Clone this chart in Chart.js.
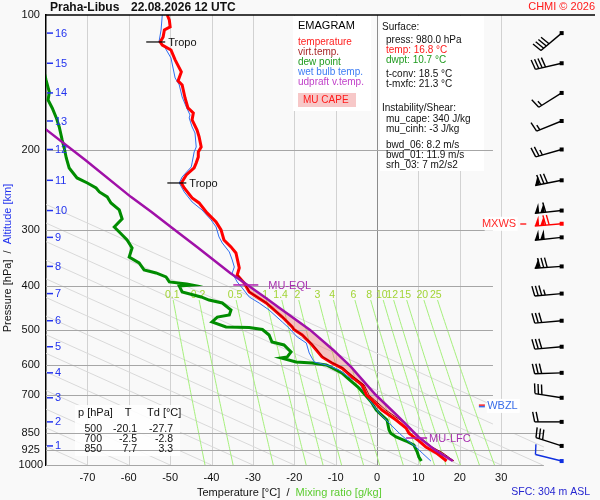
<!DOCTYPE html>
<html>
<head>
<meta charset="utf-8">
<title>Emagram Praha-Libus</title>
<script src="https://cdn.jsdelivr.net/npm/chart.js@4.4.1/dist/chart.umd.min.js"></script>
<style>
  html, body { margin: 0; padding: 0; background: #f9f9f9; }
  #wrap { width: 600px; height: 500px; }
</style>
</head>
<body>
<div id="wrap"><canvas id="emagram" width="600" height="500"></canvas></div>
<script>
// Emagram Praha-Libus 22.08.2026 12 UTC
// Profiles are (pressure hPa, temperature °C) pairs.

/* ------------------------------------------------ axes ------------------------------------------------ */
const pLevels = [100, 200, 300, 400, 500, 600, 700, 850, 925, 1000];
const tLabels = [-70, -60, -50, -40, -30, -20, -10, 0, 10, 20, 30];
const altKm = [1, 2, 3, 4, 5, 6, 7, 8, 9, 10, 11, 12, 13, 14, 15, 16];
const altP  = [907, 802, 709, 624, 546, 478, 416, 362, 312, 272, 233, 199, 172, 149, 128, 109.7];
const mixRatios = [0.1, 0.2, 0.5, 1, 1.4, 2, 3, 4, 6, 8, 10, 12, 15, 20, 25];

/* ------------------------------------------------ profiles -------------------------------------------- */
const tempP = [100, 102.6, 106.3, 108, 111.9, 114.8, 116.6, 119.6, 125.8, 133.8, 140.1, 143.1, 152.9, 160.9,
               165.1, 171, 180.1, 186.6, 196.5, 201.5, 206.8, 213.1, 218.7, 226.7, 236.2, 242.3, 255.1, 261.6,
               275.3, 288.2, 300.3, 316.2, 327.6, 337.9, 365, 378.3, 394.1, 412.6, 436.5, 469, 493.6, 500,
               514.1, 541.1, 575.3, 593.3, 608.9, 637.6, 664.3, 700, 717, 754.9, 794.5, 827.7, 850, 884, 912,
               940, 980];
const tempT = [-50.7, -50.2, -50.0, -51.4, -51.7, -52.4, -51.9, -49.8, -48.8, -47.3, -48.1, -47.1, -46.4, -45.7,
               -44.4, -44.7, -43.5, -43.0, -42.5, -43.2, -43.2, -43.7, -44.2, -46.1, -47.3, -46.6, -44.7, -43.0,
               -41.1, -38.9, -37.7, -37.0, -35.3, -34.1, -33.3, -33.8, -32.1, -30.9, -26.8, -22.9, -20.5, -20.1,
               -18.1, -15.7, -13.3, -10.9, -8.5, -6.0, -3.6, -2.5, -1.2, 1.2, 4.6, 7.0, 7.7, 10.1, 11.8,
               14.3, 16.8];

const tvP = [378.3, 394.1, 412.6, 436.5, 469, 493.6, 500, 514.1, 541.1, 575.3, 593.3, 608.9, 637.6, 664.3,
             700, 717, 754.9, 794.5, 827.7, 850, 884, 912, 940, 980];
const tvT = [-33.7, -32.0, -30.8, -26.7, -22.8, -20.4, -20.0, -18.0, -15.5, -13.1, -10.7, -8.2, -5.6, -3.1,
             -1.9, -0.6, 2.1, 5.6, 8.1, 8.9, 11.4, 13.3, 15.9, 18.6];

const wbP = [100, 108, 114.8, 118.4, 124.6, 138.0, 143.0, 152.1, 160.1, 166.8, 169.3, 177.3, 182.9, 196.5,
             201.5, 213.1, 217.6, 229.0, 236.2, 247.3, 260.3, 271.2, 285.4, 295.8, 311.3, 321.1, 336.2, 350.2,
             363.1, 374.3, 391.9, 404.1, 423.2, 436.5, 452.4, 481.0, 496.0, 519.4, 535.7, 563.9, 590.3, 599.3,
             605.5, 615.0, 637.6, 657.1, 700, 766.4, 806.5, 848.8, 879.9, 912.0, 940.6, 980];
const wbT = [-51.9, -52.2, -52.7, -51.2, -49.8, -48.8, -47.8, -47.1, -46.1, -45.2, -45.4, -44.7, -44.0, -43.7,
             -44.2, -44.7, -44.9, -47.1, -47.8, -46.6, -44.7, -42.3, -40.1, -38.9, -38.2, -37.4, -35.7, -35.0,
             -34.5, -35.0, -33.8, -32.6, -30.9, -28.5, -26.1, -22.9, -21.3, -19.3, -17.1, -16.4, -15.2, -12.3,
             -10.9, -9.2, -6.8, -4.3, -2.7, 0.5, 2.9, 5.3, 7.2, 9.4, 10.9, 13.0];

const dewP = [131.1, 139.4, 148.3, 154.5, 160.9, 169.3, 177.3, 189.5, 197.5, 207.8, 218.7, 230.2, 236.2, 242.3,
              247.3, 253.6, 261.6, 271.2, 283.9, 295.8, 303.6, 316.2, 329.4, 345, 355.6, 368.6, 374.3, 382.1,
              391.9, 396, 398.1, 400.1, 412.6, 423.2, 430, 436.5, 452.4, 463.9, 469, 481, 493.6, 495, 500,
              514.1, 533, 541.1, 560.8, 575.3, 578.2, 590.3, 593.3, 599.3, 605.5, 624.5, 640.7, 670.9, 700,
              724.6, 754.9, 794.5, 836, 850, 866.5, 884.4, 902.7, 935.6, 959.9, 980];
const dewT = [-80.7, -80.0, -79.2, -79.5, -78.5, -77.5, -76.8, -76.1, -75.6, -75.1, -74.4, -72.5, -70.0, -67.9,
              -67.1, -65.2, -64.3, -62.3, -61.6, -63.5, -62.3, -60.4, -59.2, -59.9, -57.5, -56.3, -53.4, -51.0,
              -50.2, -46.0, -44.7, -47.8, -47.1, -42.5, -40.6, -37.4, -35.3, -35.7, -38.6, -39.9, -36.5, -30.9, -27.7,
              -26.1, -25.4, -22.5, -20.8, -21.7, -23.2, -19.6, -15.7, -12.3, -11.3, -8.5, -7.2, -4.6, -2.8,
              -1.4, -0.2, 2.4, 2.9, 3.3, 4.6, 7.0, 8.9, 9.7, 10.1, 10.7];

const parcelP = [178.2, 210, 253.6, 273.9, 297.3, 327.6, 374.3, 394.1, 423.2, 445.4, 501, 555, 605.5, 699,
                 782, 866.5, 926, 980];
const parcelT = [-80.5, -70.5, -59.5, -54.5, -49.5, -43.5, -35.5, -32.0, -27.2, -23.9, -16.2, -10.6, -6.3, -0.3,
                 5.2, 10.0, 14.0, 18.3];

/* ------------------------------------------------ levels & winds -------------------------------------- */
const tropoP = [114.8, 236.2];
const eqlP = 398, lfcP = 871, wbzlP = 739, mxwsP = 291;

const windP   = [109.7, 128, 149, 172, 199, 233, 272, 291, 312, 362, 416, 478, 546, 624, 709, 802, 907, 980];
const windDir = [230, 257, 238, 248, 254, 259, 264, 265, 264, 266, 265, 265, 265, 268, 279, 270, 288, 284];
const windSpd = [40, 40, 15, 15, 25, 80, 110, 120, 100, 80, 35, 30, 30, 30, 30, 20, 30, 10];

const tableP  = ['500', '700', '850'];
const tableT  = ['-20.1', '-2.5', '7.7'];
const tableTd = ['-27.7', '-2.8', '3.3'];

/* ------------------------------------------------ helpers --------------------------------------------- */
const FAMILY = '"Liberation Sans", Arial, Helvetica, sans-serif';
function font(size, bold) { return (bold ? 'bold ' : '') + size + 'px ' + FAMILY; }

// linear interpolation in ln p, ps ascending
function interpT(ps, ts, p) {
  for (let i = 1; i < ps.length; i++) {
    if (p <= ps[i]) {
      const f = Math.log(p / ps[i - 1]) / Math.log(ps[i] / ps[i - 1]);
      return ts[i - 1] + f * (ts[i] - ts[i - 1]);
    }
  }
  return ts[ts.length - 1];
}

// dew point of saturation for a mixing ratio (g/kg) at pressure p (hPa)
function tdFromMix(w, p) {
  const e = w * p / (622 + w);
  const l = Math.log(e / 6.112);
  return 243.5 * l / (17.67 - l);
}

function series(label, ps, ts, color, width) {
  return {
    label,
    data: ps.map((p, i) => ({ x: ts[i], y: p })),
    showLine: true,
    borderColor: color,
    backgroundColor: color,
    borderWidth: width,
    pointRadius: 0,
    tension: 0,
    fill: false
  };
}

function text(ctx, str, x, y, color, size, align, bold) {
  ctx.font = font(size, bold);
  ctx.fillStyle = color;
  ctx.textAlign = align || 'left';
  ctx.textBaseline = 'middle';
  ctx.fillText(str, x, y);
}

function drawBarb(ctx, x0, y0, dir, spd, color) {
  const r = dir * Math.PI / 180;
  const ux = Math.sin(r), uy = -Math.cos(r);   // towards where the wind blows from
  const px = -uy, py = ux;                      // barb side
  const len = 27, bl = 10;
  const ex = x0 + ux * len, ey = y0 + uy * len;
  ctx.strokeStyle = color;
  ctx.fillStyle = color;
  ctx.lineWidth = 1.4;
  ctx.beginPath();
  ctx.moveTo(x0, y0);
  ctx.lineTo(ex, ey);
  ctx.stroke();
  ctx.fillRect(x0 - 2, y0 - 2, 4, 4);

  let s = Math.round(spd / 5) * 5;
  let pos = 0;
  while (s >= 50) {
    const ax = ex - ux * pos, ay = ey - uy * pos;
    const bx = ex - ux * (pos + 4.5), by = ey - uy * (pos + 4.5);
    ctx.beginPath();
    ctx.moveTo(ax, ay);
    ctx.lineTo(bx, by);
    ctx.lineTo(bx + px * bl, by + py * bl);
    ctx.closePath();
    ctx.fill();
    pos += 5.5;
    s -= 50;
  }
  while (s >= 10) {
    const bx = ex - ux * pos, by = ey - uy * pos;
    ctx.beginPath();
    ctx.moveTo(bx, by);
    ctx.lineTo(bx + px * bl + ux * 2, by + py * bl + uy * 2);
    ctx.stroke();
    pos += 3.5;
    s -= 10;
  }
  if (s >= 5) {
    if (pos === 0) pos = 3.5;
    const bx = ex - ux * pos, by = ey - uy * pos;
    ctx.beginPath();
    ctx.moveTo(bx, by);
    ctx.lineTo(bx + px * bl * 0.55 + ux * 1.1, by + py * bl * 0.55 + uy * 1.1);
    ctx.stroke();
  }
}

/* ------------------------------------------------ plugin ---------------------------------------------- */
const emagramPlugin = {
  id: 'emagram',

  beforeDraw(chart) {
    const ctx = chart.ctx;
    ctx.save();
    ctx.fillStyle = '#f9f9f9';
    ctx.fillRect(0, 0, chart.width, chart.height);
    ctx.restore();
  },

  beforeDatasetsDraw(chart) {
    const ctx = chart.ctx, a = chart.chartArea;
    const X = t => chart.scales.x.getPixelForValue(t);
    const Y = p => chart.scales.y.getPixelForValue(p);

    ctx.save();
    ctx.beginPath();
    ctx.rect(a.left, a.top, a.right - a.left, a.bottom - a.top);
    ctx.clip();

    // isotherms
    ctx.lineWidth = 1;
    tLabels.forEach(t => {
      ctx.strokeStyle = t === 0 ? '#8c8c8c' : '#d2d2d2';
      ctx.beginPath();
      ctx.moveTo(Math.round(X(t)) + 0.5, a.top);
      ctx.lineTo(Math.round(X(t)) + 0.5, a.bottom);
      ctx.stroke();
    });

    // inclined guide lines, limited to 28 °C above 850 hPa and 40 °C below
    ctx.save();
    ctx.beginPath();
    ctx.rect(a.left, a.top, X(28) - a.left, a.bottom - a.top);
    ctx.rect(a.left, Y(850), X(40.3) - a.left, a.bottom - Y(850));
    ctx.clip();
    ctx.strokeStyle = '#d9d9d9';
    for (let t0 = -240; t0 <= 60; t0 += 10) {
      ctx.beginPath();
      ctx.moveTo(X(t0), Y(1000));
      ctx.lineTo(X(t0 + 105 * Math.log(100 / 1000)), Y(100));
      ctx.stroke();
    }
    ctx.restore();

    // mixing ratio lines
    ctx.strokeStyle = '#a6f07c';
    mixRatios.forEach(w => {
      ctx.beginPath();
      for (let p = 430; p <= 1000; p += 10) {
        const x = X(tdFromMix(w, p)), y = Y(p);
        if (p === 430) ctx.moveTo(x, y); else ctx.lineTo(x, y);
      }
      ctx.stroke();
    });
    mixRatios.forEach(w => {
      text(ctx, String(w), X(tdFromMix(w, 419)), Y(419), '#a2d436', 10.5, 'center');
    });

    // CAPE area between the updraft and the virtual temperature
    ctx.beginPath();
    ctx.moveTo(X(interpT(parcelP, parcelT, eqlP)), Y(eqlP));
    parcelP.forEach((p, i) => { if (p > eqlP && p < lfcP) ctx.lineTo(X(parcelT[i]), Y(p)); });
    ctx.lineTo(X(interpT(parcelP, parcelT, lfcP)), Y(lfcP));
    ctx.lineTo(X(interpT(tvP, tvT, lfcP)), Y(lfcP));
    for (let i = tvP.length - 1; i >= 0; i--) {
      if (tvP[i] > eqlP && tvP[i] < lfcP) ctx.lineTo(X(tvT[i]), Y(tvP[i]));
    }
    ctx.lineTo(X(interpT(tvP, tvT, eqlP)), Y(eqlP));
    ctx.closePath();
    ctx.fillStyle = 'rgba(238, 120, 120, 0.42)';
    ctx.fill();
    ctx.restore();

    // text boxes
    ctx.save();
    ctx.fillStyle = '#ffffff';
    ctx.fillRect(293, 16, 78, 95);
    ctx.fillRect(380, 16, 104, 155);
    ctx.fillStyle = 'rgba(255,255,255,0.85)';
    ctx.fillRect(75, 405, 105, 51);

    // standard pressure levels
    ctx.strokeStyle = '#a6a6a6';
    ctx.lineWidth = 1.2;
    pLevels.slice(1).forEach(p => {
      const y = Math.round(Y(p)) + 0.5;
      ctx.beginPath();
      ctx.moveTo(a.left, y);
      ctx.lineTo(p >= 850 ? X(40.3) : X(28), y);
      ctx.stroke();
    });
    ctx.restore();
  },

  afterDatasetsDraw(chart) {
    const ctx = chart.ctx, a = chart.chartArea;
    const X = t => chart.scales.x.getPixelForValue(t);
    const Y = p => chart.scales.y.getPixelForValue(p);
    ctx.save();

    // frame top line
    ctx.strokeStyle = '#000';
    ctx.lineWidth = 1.5;
    ctx.beginPath();
    ctx.moveTo(a.left, a.top);
    ctx.lineTo(595, a.top);
    ctx.stroke();

    // title
    text(ctx, 'Praha-Libus', 50, 8, '#111', 12, 'left', true);
    text(ctx, '22.08.2026 12 UTC', 131, 8, '#111', 12, 'left', true);
    text(ctx, 'CHMI \u00a9 2026', 595, 7, '#ff1a1a', 11, 'right');

    // altitude scale
    ctx.strokeStyle = '#2233ee';
    ctx.lineWidth = 1.5;
    altKm.forEach((km, i) => {
      const y = Y(altP[i]);
      ctx.beginPath();
      ctx.moveTo(a.left + 1, y);
      ctx.lineTo(a.left + 7, y);
      ctx.stroke();
      text(ctx, String(km), a.left + 9, y + 0.5, '#2233ee', 11, 'left');
    });

    // legend box
    text(ctx, 'EMAGRAM', 298, 26, '#000', 11);
    text(ctx, 'temperature', 298, 42, '#ff2020', 10);
    text(ctx, 'virt.temp.', 298, 52, '#a82828', 10);
    text(ctx, 'dew point', 298, 62, '#1e9a1e', 10);
    text(ctx, 'wet bulb temp.', 298, 72, '#3c7cf4', 10);
    text(ctx, 'udpraft v.temp.', 298, 82, '#c040c8', 10);
    ctx.fillStyle = '#f7c8c8';
    ctx.fillRect(298, 93, 58, 14);
    text(ctx, 'MU CAPE', 303, 100.5, '#ff1a1a', 10);

    // surface / instability box
    text(ctx, 'Surface:', 382, 27, '#111', 10);
    text(ctx, 'press: 980.0 hPa', 386, 40, '#111', 10);
    text(ctx, 'temp: 16.8 \u00b0C', 386, 50, '#ff1a1a', 10);
    text(ctx, 'dwpt: 10.7 \u00b0C', 386, 60, '#1e9a1e', 10);
    text(ctx, 't-conv: 18.5 \u00b0C', 386, 74, '#111', 10);
    text(ctx, 't-mxfc: 21.3 \u00b0C', 386, 84, '#111', 10);
    text(ctx, 'Instability/Shear:', 382, 108, '#111', 10);
    text(ctx, 'mu_cape: 340 J/kg', 386, 119, '#111', 10);
    text(ctx, 'mu_cinh: -3 J/kg', 386, 129, '#111', 10);
    text(ctx, 'bwd_06: 8.2 m/s', 386, 145, '#111', 10);
    text(ctx, 'bwd_01: 11.9 m/s', 386, 155, '#111', 10);
    text(ctx, 'srh_03: 7 m2/s2', 386, 165, '#111', 10);

    // table of standard levels
    text(ctx, 'p [hPa]', 78, 413, '#111', 11);
    text(ctx, 'T', 128, 413, '#111', 11, 'center');
    text(ctx, 'Td [\u00b0C]', 147, 413, '#111', 11);
    tableP.forEach((p, i) => {
      const y = 429 + i * 10;
      text(ctx, p, 102, y, '#111', 10.5, 'right');
      text(ctx, tableT[i], 137, y, '#111', 10.5, 'right');
      text(ctx, tableTd[i], 173, y, '#111', 10.5, 'right');
    });

    // tropopauses
    ctx.lineWidth = 1.2;
    tropoP.forEach(p => {
      const x = X(interpT(tempP, tempT, p)), y = Y(p);
      ctx.strokeStyle = '#000';
      ctx.beginPath();
      ctx.moveTo(x - 14, y);
      ctx.lineTo(x + 5, y);
      ctx.stroke();
      text(ctx, 'Tropo', x + 8, y + 1, '#111', 11);
    });

    // MU levels
    ctx.strokeStyle = '#b020b0';
    ctx.lineWidth = 1.5;
    let x = X(interpT(tempP, tempT, eqlP)), y = Y(eqlP);
    ctx.beginPath(); ctx.moveTo(x - 12, y); ctx.lineTo(x + 13, y); ctx.stroke();
    text(ctx, 'MU-EQL', x + 23, y + 1, '#a830b0', 11);
    x = X(interpT(tempP, tempT, lfcP)); y = Y(lfcP);
    ctx.beginPath(); ctx.moveTo(x - 9, y); ctx.lineTo(x + 12, y); ctx.stroke();
    text(ctx, 'MU-LFC', x + 14, y + 1, '#a830b0', 11);

    // wet bulb zero level
    y = Y(wbzlP);
    ctx.fillStyle = '#ffffff';
    ctx.fillRect(X(26.5), y - 7, 33, 14);
    ctx.fillStyle = '#ff2020';
    ctx.fillRect(X(24.6), y - 1.5, 6, 1.5);
    ctx.fillStyle = '#3a6ee8';
    ctx.fillRect(X(24.6), y, 6, 1.5);
    text(ctx, 'WBZL', X(26.6), y + 0.5, '#3a6ee8', 11);

    // max wind level
    y = Y(mxwsP);
    ctx.fillStyle = '#ffffff';
    ctx.fillRect(X(26), y - 7, 33, 14);
    text(ctx, 'MXWS', X(33.6), y + 0.5, '#ff2a2a', 11, 'right');
    ctx.fillStyle = '#ff2a2a';
    ctx.fillRect(X(34.6), y - 0.5, 6, 1.5);

    // wind barbs
    windP.forEach((p, i) => {
      let color = '#000';
      if (p === mxwsP) color = '#ff0000';
      if (i === windP.length - 1) color = '#1030e0';
      drawBarb(ctx, X(44.6), Y(p), windDir[i], windSpd[i], color);
    });

    // axis titles
    ctx.font = font(11);
    ctx.textBaseline = 'middle';
    ctx.textAlign = 'left';
    const t1 = 'Temperature [\u00b0C]  /  ', t2 = 'Mixing ratio [g/kg]';
    ctx.fillStyle = '#111';
    ctx.fillText(t1, 197, 493);
    ctx.fillStyle = '#5ccc30';
    ctx.fillText(t2, 197 + ctx.measureText(t1).width, 493);

    ctx.save();
    ctx.translate(8, 258);
    ctx.rotate(-Math.PI / 2);
    const y1 = 'Pressure [hPa]  /  ', y2 = 'Altitude [km]';
    const w1 = ctx.measureText(y1).width, w2 = ctx.measureText(y2).width;
    ctx.fillStyle = '#111';
    ctx.fillText(y1, -(w1 + w2) / 2, 0);
    ctx.fillStyle = '#2233ee';
    ctx.fillText(y2, -(w1 + w2) / 2 + w1, 0);
    ctx.restore();

    text(ctx, 'SFC: 304 m ASL', 590, 492, '#2525d0', 10.5, 'right');
    ctx.restore();
  }
};

/* ------------------------------------------------ chart ----------------------------------------------- */
Chart.defaults.font.family = FAMILY;
Chart.defaults.color = '#000';

new Chart(document.getElementById('emagram'), {
  type: 'scatter',
  data: {
    datasets: [
      series('udpraft v.temp.', parcelP, parcelT, '#a010a8', 2.5),
      series('virt.temp.', tvP, tvT, '#a00000', 1),
      series('temperature', tempP, tempT, '#ff0000', 3),
      series('wet bulb temp.', wbP, wbT, '#2f6df0', 1),
      series('dew point', dewP, dewT, '#008c00', 3)
    ]
  },
  options: {
    responsive: false,
    animation: false,
    events: [],
    layout: { padding: { top: 15, right: 16, left: 0, bottom: 0 }, autoPadding: false },
    scales: {
      x: {
        type: 'linear',
        min: -80,
        max: 50,
        border: { display: false },
        grid: { display: false, drawTicks: false },
        afterBuildTicks: ax => { ax.ticks = tLabels.map(v => ({ value: v })); },
        ticks: { autoSkip: false, maxRotation: 0, padding: 6, color: '#111', font: { size: 11 } },
        afterFit: ax => { ax.height = 35; }
      },
      y: {
        type: 'logarithmic',
        reverse: true,
        min: 100,
        max: 1000,
        border: { display: true, color: '#000', width: 1.5 },
        grid: { display: false, drawTicks: false },
        afterBuildTicks: ax => { ax.ticks = pLevels.map(v => ({ value: v })); },
        ticks: { autoSkip: false, padding: 3, crossAlign: 'center', color: '#111', font: { size: 11 },
                 callback: v => String(v) },
        afterFit: ax => { ax.width = 46; }
      }
    },
    plugins: {
      legend: { display: false },
      tooltip: { enabled: false },
      title: { display: false }
    }
  },
  plugins: [emagramPlugin]
});
</script>
</body>
</html>
